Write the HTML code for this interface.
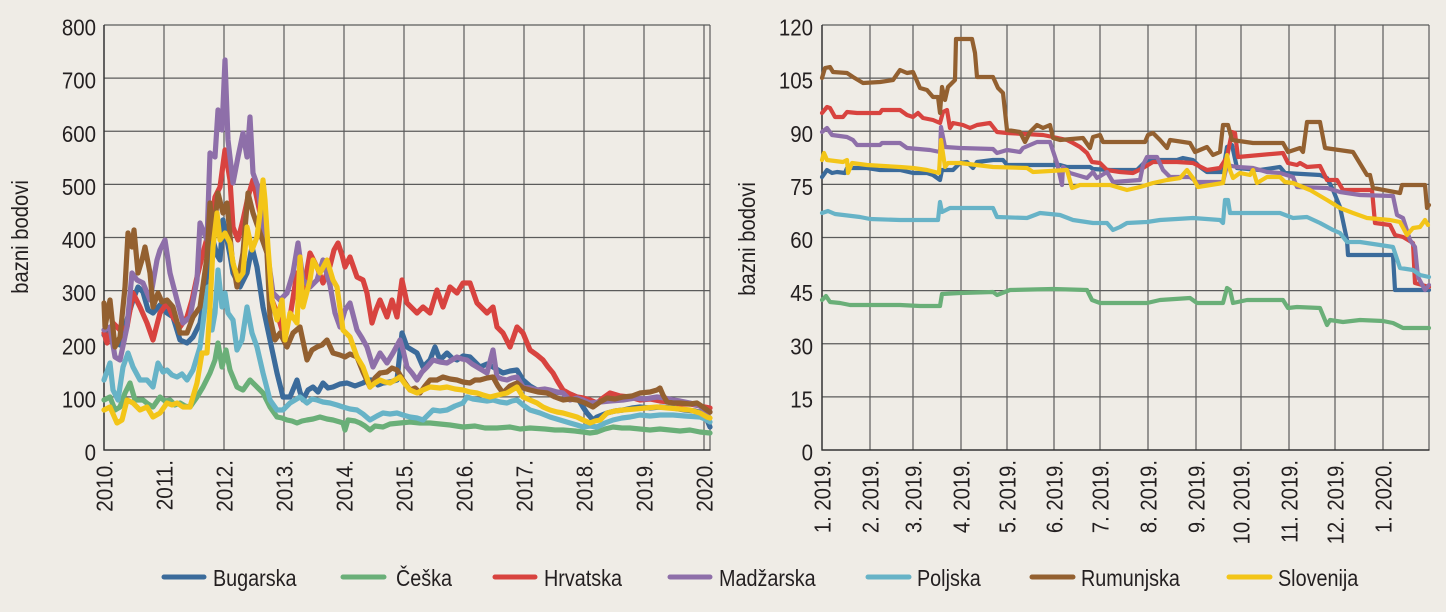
<!DOCTYPE html>
<html>
<head>
<meta charset="utf-8">
<style>
html,body{margin:0;padding:0;background:#efece6;}
body{width:1446px;height:612px;overflow:hidden;}
svg{display:block;}
text{font-family:"Liberation Sans",Arial,sans-serif;fill:#231f20;}
.s{fill:none;stroke-linejoin:round;stroke-linecap:round;}
.L .s{stroke-width:5.2;}
.R .s{stroke-width:4.2;}
</style>
</head>
<body>
<svg width="1446" height="612" viewBox="0 0 1446 612" xmlns="http://www.w3.org/2000/svg">
<rect x="0" y="0" width="1446" height="612" fill="#efece6"/>

<!-- LEFT CHART GRID -->
<g stroke="#5b5b5b" stroke-width="1.2" fill="none">
  <line x1="104" y1="25" x2="710" y2="25"/>
  <line x1="104" y1="78.1" x2="710" y2="78.1"/>
  <line x1="104" y1="131.25" x2="710" y2="131.25"/>
  <line x1="104" y1="184.4" x2="710" y2="184.4"/>
  <line x1="104" y1="237.5" x2="710" y2="237.5"/>
  <line x1="104" y1="290.6" x2="710" y2="290.6"/>
  <line x1="104" y1="343.75" x2="710" y2="343.75"/>
  <line x1="104" y1="396.9" x2="710" y2="396.9"/>
  <line x1="164" y1="25" x2="164" y2="450"/>
  <line x1="224" y1="25" x2="224" y2="450"/>
  <line x1="284" y1="25" x2="284" y2="450"/>
  <line x1="344" y1="25" x2="344" y2="450"/>
  <line x1="404" y1="25" x2="404" y2="450"/>
  <line x1="464" y1="25" x2="464" y2="450"/>
  <line x1="524" y1="25" x2="524" y2="450"/>
  <line x1="584" y1="25" x2="584" y2="450"/>
  <line x1="644" y1="25" x2="644" y2="450"/>
  <line x1="704" y1="25" x2="704" y2="450"/>
  <line x1="710" y1="25" x2="710" y2="450"/>
</g>
<g stroke="#333" stroke-width="1.5">
  <line x1="104" y1="25" x2="104" y2="450.5"/>
  <line x1="103.5" y1="450" x2="710.5" y2="450"/>
</g>

<!-- RIGHT CHART GRID -->
<g stroke="#5b5b5b" stroke-width="1.2" fill="none">
  <line x1="822" y1="25" x2="1429" y2="25"/>
  <line x1="822" y1="78.1" x2="1429" y2="78.1"/>
  <line x1="822" y1="131.25" x2="1429" y2="131.25"/>
  <line x1="822" y1="184.4" x2="1429" y2="184.4"/>
  <line x1="822" y1="237.5" x2="1429" y2="237.5"/>
  <line x1="822" y1="290.6" x2="1429" y2="290.6"/>
  <line x1="822" y1="343.75" x2="1429" y2="343.75"/>
  <line x1="822" y1="396.9" x2="1429" y2="396.9"/>
  <line x1="870" y1="25" x2="870" y2="450"/>
  <line x1="913" y1="25" x2="913" y2="450"/>
  <line x1="961" y1="25" x2="961" y2="450"/>
  <line x1="1007" y1="25" x2="1007" y2="450"/>
  <line x1="1054" y1="25" x2="1054" y2="450"/>
  <line x1="1100" y1="25" x2="1100" y2="450"/>
  <line x1="1148" y1="25" x2="1148" y2="450"/>
  <line x1="1196" y1="25" x2="1196" y2="450"/>
  <line x1="1241" y1="25" x2="1241" y2="450"/>
  <line x1="1289" y1="25" x2="1289" y2="450"/>
  <line x1="1335" y1="25" x2="1335" y2="450"/>
  <line x1="1383" y1="25" x2="1383" y2="450"/>
  <line x1="1429" y1="25" x2="1429" y2="450"/>
</g>
<g stroke="#333" stroke-width="1.5">
  <line x1="822" y1="25" x2="822" y2="450.5"/>
  <line x1="821.5" y1="450" x2="1429.5" y2="450"/>
</g>

<!-- LEFT SERIES -->
<g class="L">
<polyline class="s" stroke="#3b6b9b" points="104,335 110,330 115,342 120,345 127,320 133,300 138,287 143,292 148,310 153,313 160,305 167,313 173,317 180,340 187,343 193,337 200,323 204,300 207,273 211,255 213,240 217,255 220,260 223,220 227,240 230,255 233,273 240,287 247,273 252,247 257,267 263,307 270,340 277,373 283,397 290,397 297,380 300,392 303,400 308,390 313,387 318,392 323,383 328,388 333,387 340,384 347,383 355,386 363,383 368,380 373,380 378,385 383,383 390,382 397,380 402,333 407,347 412,350 417,353 423,367 430,360 435,347 440,360 447,353 452,358 457,360 463,356 470,357 475,362 480,367 487,364 493,367 498,370 503,373 510,371 517,370 523,380 530,386 537,390 545,391 555,392 563,393 570,394 577,397 583,407 587,413 593,420 597,417 602,415 607,413 615,411 623,410 632,408 640,407 650,408 660,407 673,408 685,410 695,411 703,413 707,420 710,427"/>
<polyline class="s" stroke="#6aaf78" points="104,400 110,397 115,410 120,407 125,393 130,383 135,400 143,400 148,404 153,407 160,397 165,401 170,400 175,405 180,403 185,406 190,407 197,397 203,387 210,373 215,360 218,343 222,367 226,350 230,370 237,387 243,390 250,380 257,387 263,393 270,407 277,417 282,418 287,420 292,421 297,423 302,421 307,420 313,419 320,417 327,419 333,420 340,422 343,423 345,430 348,420 355,421 360,423 365,426 370,430 375,426 383,427 390,424 400,423 410,422 420,423 430,423 440,424 450,425 463,427 475,426 485,428 497,428 510,427 520,429 530,428 545,429 555,430 563,430 575,431 583,432 590,433 597,432 605,429 613,427 622,428 630,428 640,429 650,430 660,429 670,430 680,431 690,430 700,432 710,433"/>
<polyline class="s" stroke="#d8433f" points="104,333 107,343 113,323 120,330 127,327 133,293 140,307 147,323 153,340 160,313 167,303 173,317 180,327 187,317 192,300 197,277 203,253 210,227 215,197 220,187 225,150 230,180 233,227 238,240 243,220 248,197 253,180 260,213 267,253 272,300 277,313 283,333 290,317 297,273 303,293 310,253 317,267 323,283 330,266 334,250 338,243 342,255 345,267 350,257 357,277 363,280 367,293 372,323 376,310 380,300 387,317 392,300 397,317 402,280 407,303 412,308 417,313 423,307 430,313 437,290 443,307 450,287 457,293 463,283 470,283 477,303 482,308 487,313 493,307 497,327 503,333 510,347 517,327 523,333 530,350 537,355 543,360 548,367 553,373 558,382 563,390 570,394 577,397 583,398 590,400 597,403 603,398 610,393 620,396 630,397 640,400 650,399 660,401 670,402 680,404 690,404 700,406 710,408"/>
<polyline class="s" stroke="#8e6fa9" points="104,330 110,327 115,357 120,360 127,327 132,273 137,280 143,283 150,300 157,260 160,250 165,240 170,273 177,300 183,323 190,317 197,280 200,223 207,240 210,153 215,157 218,110 222,130 225,60 228,140 233,183 238,157 243,133 247,157 250,117 253,173 258,187 263,227 268,257 273,293 280,300 287,293 293,273 298,243 303,280 310,287 317,280 323,260 330,285 335,313 340,327 345,310 350,303 357,330 362,338 367,347 373,367 380,353 387,363 393,353 400,340 403,350 407,367 412,373 417,380 422,372 427,367 433,360 440,362 447,363 452,360 457,357 462,359 467,360 472,364 477,367 482,370 487,373 493,350 497,377 502,379 507,380 512,378 517,377 523,387 530,388 537,390 545,389 550,390 557,392 563,393 570,400 577,398 583,400 590,403 600,402 610,401 623,400 635,398 645,399 657,397 665,398 673,400 680,401 690,403 700,406 707,413 710,412"/>
<polyline class="s" stroke="#67b3c7" points="104,380 110,363 113,390 118,400 123,367 128,353 133,367 140,380 147,380 153,387 158,363 163,372 167,370 172,375 177,377 182,374 187,380 193,370 200,347 205,307 208,287 212,330 215,313 218,270 222,307 225,293 228,313 233,320 237,350 242,340 247,307 252,333 257,347 263,373 270,400 277,410 283,410 290,403 295,400 300,397 307,403 312,399 317,400 323,402 330,403 337,405 343,407 350,409 357,410 363,414 370,420 377,416 383,413 390,414 397,413 403,415 410,417 417,418 423,420 428,415 433,410 440,411 447,410 455,406 463,403 467,397 473,399 480,400 487,401 493,400 500,402 507,403 512,401 517,400 523,405 530,410 540,413 550,417 560,420 570,423 577,425 583,427 590,426 597,427 605,423 613,420 622,418 630,417 640,415 650,416 660,415 673,415 685,416 700,417 705,419 710,422"/>
<polyline class="s" stroke="#936030" points="104,303 105,327 110,300 115,347 120,337 125,287 128,233 132,247 134,230 138,273 142,260 145,247 150,273 153,307 158,293 162,302 167,300 173,307 180,333 187,333 193,317 200,307 207,257 210,203 213,240 218,193 223,213 227,203 232,257 237,287 243,253 248,193 253,213 260,233 267,253 270,317 275,340 280,333 287,347 293,333 300,327 307,360 312,350 317,347 322,345 327,340 333,353 340,355 345,357 350,354 357,357 363,372 370,387 375,378 380,373 387,372 392,368 397,370 403,380 410,390 415,388 420,393 425,386 430,380 437,380 443,377 450,379 457,380 463,382 470,383 475,380 480,380 487,378 493,377 498,386 503,393 510,386 517,383 523,388 530,390 538,392 547,393 555,397 563,400 570,399 577,400 585,403 593,407 600,402 607,398 615,399 623,397 632,396 640,393 650,392 657,390 660,388 663,395 667,402 673,403 680,403 690,404 697,403 703,407 707,410 710,412"/>
<polyline class="s" stroke="#f3c518" points="104,410 110,407 117,423 122,420 127,400 133,403 140,410 147,407 153,417 160,413 167,403 172,405 177,403 183,407 190,407 197,383 202,353 207,353 210,307 213,247 217,213 220,240 225,233 230,243 233,263 238,280 243,273 247,227 252,250 257,237 260,213 263,180 265,200 268,247 272,300 277,320 282,300 285,340 290,313 297,323 300,257 303,307 310,280 313,260 320,273 327,260 333,280 337,287 343,330 350,337 357,357 363,367 367,378 370,387 375,383 380,380 385,382 390,383 395,380 400,377 405,384 410,390 417,393 423,390 430,387 440,388 447,387 455,389 463,390 470,392 477,393 483,395 490,397 498,395 507,393 512,390 517,387 523,397 530,400 537,403 543,407 550,410 557,412 563,413 570,415 577,417 583,420 590,423 595,421 600,420 607,413 615,411 623,410 635,409 645,408 657,407 668,408 680,409 690,410 700,413 707,417 710,418"/>
</g>

<!-- RIGHT SERIES -->
<g class="R">
<polyline class="s" stroke="#3b6b9b" points="822,177 827,170 832,173 837,172 845,173 847,168 867,168 880,170 900,170 913,173 927,173 933,175 940,180 942,170 953,170 960,163 967,162 973,168 977,162 993,160 1003,160 1007,165 1060,165 1067,167 1090,167 1093,169 1110,170 1137,170 1147,160 1177,160 1183,158 1193,160 1200,167 1207,172 1223,172 1227,147 1232,145 1237,168 1260,170 1280,167 1285,173 1320,175 1327,178 1333,190 1340,207 1347,240 1348,255 1393,255 1395,290 1429,290"/>
<polyline class="s" stroke="#6aaf78" points="822,300 826,296 830,302 840,303 850,305 880,305 900,305 920,306 940,306 942,294 960,293 993,292 997,295 1010,290 1053,289 1087,290 1092,300 1100,303 1147,303 1160,300 1190,298 1197,303 1223,303 1227,288 1230,290 1233,303 1247,300 1283,300 1288,308 1297,307 1320,308 1327,325 1330,320 1343,322 1360,320 1383,321 1393,323 1403,328 1429,328"/>
<polyline class="s" stroke="#d8433f" points="822,113 827,107 830,108 835,117 843,117 847,112 857,113 880,113 882,110 900,110 907,115 913,117 918,113 923,118 933,120 940,123 943,112 947,110 950,128 953,123 963,125 970,128 977,125 990,123 997,132 1007,133 1043,135 1053,137 1067,140 1073,143 1080,147 1087,153 1092,162 1100,163 1107,170 1120,172 1133,173 1143,168 1153,162 1177,162 1193,163 1207,170 1220,168 1227,157 1232,132 1235,133 1238,157 1260,155 1283,153 1288,163 1297,165 1300,163 1307,167 1320,166 1327,180 1337,180 1343,190 1372,190 1375,223 1390,225 1395,235 1403,237 1413,243 1415,283 1429,287"/>
<polyline class="s" stroke="#8e6fa9" points="822,132 827,128 832,135 847,137 853,140 857,145 880,145 882,143 900,143 907,148 930,150 940,152 941,127 945,147 960,148 993,149 997,153 1007,150 1020,152 1023,148 1037,142 1050,142 1057,163 1062,185 1063,167 1070,173 1087,178 1093,172 1097,178 1107,172 1113,182 1140,180 1143,165 1147,157 1157,157 1163,170 1170,177 1190,177 1197,182 1223,182 1227,165 1237,167 1253,168 1267,172 1280,173 1293,177 1297,187 1327,188 1340,192 1360,195 1393,196 1397,215 1403,218 1410,240 1415,247 1418,277 1425,290 1429,285"/>
<polyline class="s" stroke="#67b3c7" points="822,213 828,211 835,214 860,217 870,219 900,220 938,220 940,202 942,212 950,208 960,208 993,208 997,217 1027,218 1040,213 1060,215 1073,220 1093,223 1107,223 1113,230 1120,227 1127,223 1147,222 1160,220 1193,218 1220,220 1223,223 1225,200 1228,200 1230,213 1280,213 1293,218 1307,217 1320,223 1333,230 1340,233 1347,242 1360,242 1380,245 1393,247 1400,268 1413,270 1420,275 1429,277"/>
<polyline class="s" stroke="#936030" points="822,78 825,68 830,67 833,72 847,73 853,77 863,83 880,82 893,80 900,70 907,73 913,72 920,88 927,90 933,97 938,97 940,113 942,87 945,100 948,87 955,80 956,39 972,39 975,53 977,77 993,77 998,88 1003,93 1007,130 1020,132 1025,142 1030,132 1037,125 1043,128 1050,125 1053,138 1060,140 1083,138 1090,148 1093,137 1100,135 1103,142 1145,142 1148,135 1153,133 1160,140 1167,148 1170,140 1190,143 1195,152 1207,147 1213,155 1220,152 1223,125 1228,125 1232,140 1253,143 1283,143 1288,152 1300,148 1303,152 1307,122 1320,122 1325,148 1353,152 1367,175 1370,175 1373,188 1400,193 1402,185 1425,185 1427,208 1429,205"/>
<polyline class="s" stroke="#f3c518" points="822,160 824,153 827,160 843,162 847,160 848,173 852,163 867,165 900,167 913,168 927,170 939,173 941,140 945,167 948,163 960,163 993,167 1027,168 1033,172 1067,170 1072,188 1080,185 1110,185 1127,190 1140,187 1153,183 1167,180 1180,178 1187,170 1193,178 1198,187 1223,183 1227,155 1230,170 1233,178 1240,173 1250,175 1253,170 1257,183 1267,177 1280,177 1285,182 1293,183 1310,190 1327,200 1340,208 1353,213 1367,218 1390,220 1400,222 1407,235 1413,228 1420,227 1425,220 1428,225"/>
</g>

<!-- LEFT Y TICK LABELS -->
<g font-size="23" text-anchor="end">
  <text transform="translate(96,35.5) scale(0.89,1)">800</text>
  <text transform="translate(96,88.6) scale(0.89,1)">700</text>
  <text transform="translate(96,141.75) scale(0.89,1)">600</text>
  <text transform="translate(96,194.9) scale(0.89,1)">500</text>
  <text transform="translate(96,248) scale(0.89,1)">400</text>
  <text transform="translate(96,301.1) scale(0.89,1)">300</text>
  <text transform="translate(96,354.25) scale(0.89,1)">200</text>
  <text transform="translate(96,407.4) scale(0.89,1)">100</text>
  <text transform="translate(96,460.5) scale(0.89,1)">0</text>
</g>
<!-- RIGHT Y TICK LABELS -->
<g font-size="23" text-anchor="end">
  <text transform="translate(813,35.5) scale(0.89,1)">120</text>
  <text transform="translate(813,88.6) scale(0.89,1)">105</text>
  <text transform="translate(813,141.75) scale(0.89,1)">90</text>
  <text transform="translate(813,194.9) scale(0.89,1)">75</text>
  <text transform="translate(813,248) scale(0.89,1)">60</text>
  <text transform="translate(813,301.1) scale(0.89,1)">45</text>
  <text transform="translate(813,354.25) scale(0.89,1)">30</text>
  <text transform="translate(813,407.4) scale(0.89,1)">15</text>
  <text transform="translate(813,460.5) scale(0.89,1)">0</text>
</g>

<!-- Y TITLES -->
<g font-size="23" text-anchor="middle">
  <text transform="translate(28,237) rotate(-90) scale(0.88,1)">bazni bodovi</text>
  <text transform="translate(755,239) rotate(-90) scale(0.88,1)">bazni bodovi</text>
</g>

<!-- LEFT X LABELS -->
<g font-size="23" text-anchor="end">
  <text transform="translate(112.5,460) rotate(-90) scale(0.9,1)">2010.</text>
  <text transform="translate(172.5,460) rotate(-90) scale(0.9,1)">2011.</text>
  <text transform="translate(232.5,460) rotate(-90) scale(0.9,1)">2012.</text>
  <text transform="translate(292.5,460) rotate(-90) scale(0.9,1)">2013.</text>
  <text transform="translate(352.5,460) rotate(-90) scale(0.9,1)">2014.</text>
  <text transform="translate(412.5,460) rotate(-90) scale(0.9,1)">2015.</text>
  <text transform="translate(472.5,460) rotate(-90) scale(0.9,1)">2016.</text>
  <text transform="translate(532.5,460) rotate(-90) scale(0.9,1)">2017.</text>
  <text transform="translate(592.5,460) rotate(-90) scale(0.9,1)">2018.</text>
  <text transform="translate(652.5,460) rotate(-90) scale(0.9,1)">2019.</text>
  <text transform="translate(712.5,460) rotate(-90) scale(0.9,1)">2020.</text>
</g>
<!-- RIGHT X LABELS -->
<g font-size="23" text-anchor="end">
  <text transform="translate(830.5,460) rotate(-90) scale(0.88,1)">1. 2019.</text>
  <text transform="translate(878.5,460) rotate(-90) scale(0.88,1)">2. 2019.</text>
  <text transform="translate(921.5,460) rotate(-90) scale(0.88,1)">3. 2019.</text>
  <text transform="translate(969.5,460) rotate(-90) scale(0.88,1)">4. 2019.</text>
  <text transform="translate(1015.5,460) rotate(-90) scale(0.88,1)">5. 2019.</text>
  <text transform="translate(1062.5,460) rotate(-90) scale(0.88,1)">6. 2019.</text>
  <text transform="translate(1108.5,460) rotate(-90) scale(0.88,1)">7. 2019.</text>
  <text transform="translate(1156.5,460) rotate(-90) scale(0.88,1)">8. 2019.</text>
  <text transform="translate(1204.5,460) rotate(-90) scale(0.88,1)">9. 2019.</text>
  <text transform="translate(1249.5,460) rotate(-90) scale(0.88,1)">10. 2019.</text>
  <text transform="translate(1297.5,460) rotate(-90) scale(0.88,1)">11. 2019.</text>
  <text transform="translate(1343.5,460) rotate(-90) scale(0.88,1)">12. 2019.</text>
  <text transform="translate(1391.5,460) rotate(-90) scale(0.88,1)">1. 2020.</text>
</g>

<!-- LEGEND -->
<g stroke-width="5" stroke-linecap="round">
  <line x1="164" y1="577" x2="204" y2="577" stroke="#3b6b9b"/>
  <line x1="343" y1="577" x2="384" y2="577" stroke="#6aaf78"/>
  <line x1="495" y1="577" x2="535" y2="577" stroke="#d8433f"/>
  <line x1="670" y1="577" x2="710" y2="577" stroke="#8e6fa9"/>
  <line x1="868" y1="577" x2="909" y2="577" stroke="#67b3c7"/>
  <line x1="1032" y1="577" x2="1073" y2="577" stroke="#936030"/>
  <line x1="1229" y1="577" x2="1270" y2="577" stroke="#f3c518"/>
</g>
<g font-size="23">
  <text transform="translate(213,586) scale(0.86,1)">Bugarska</text>
  <text transform="translate(396,586) scale(0.86,1)">Češka</text>
  <text transform="translate(544,586) scale(0.86,1)">Hrvatska</text>
  <text transform="translate(719,586) scale(0.86,1)">Madžarska</text>
  <text transform="translate(917,586) scale(0.86,1)">Poljska</text>
  <text transform="translate(1081,586) scale(0.86,1)">Rumunjska</text>
  <text transform="translate(1278,586) scale(0.86,1)">Slovenija</text>
</g>
</svg>
</body>
</html>
